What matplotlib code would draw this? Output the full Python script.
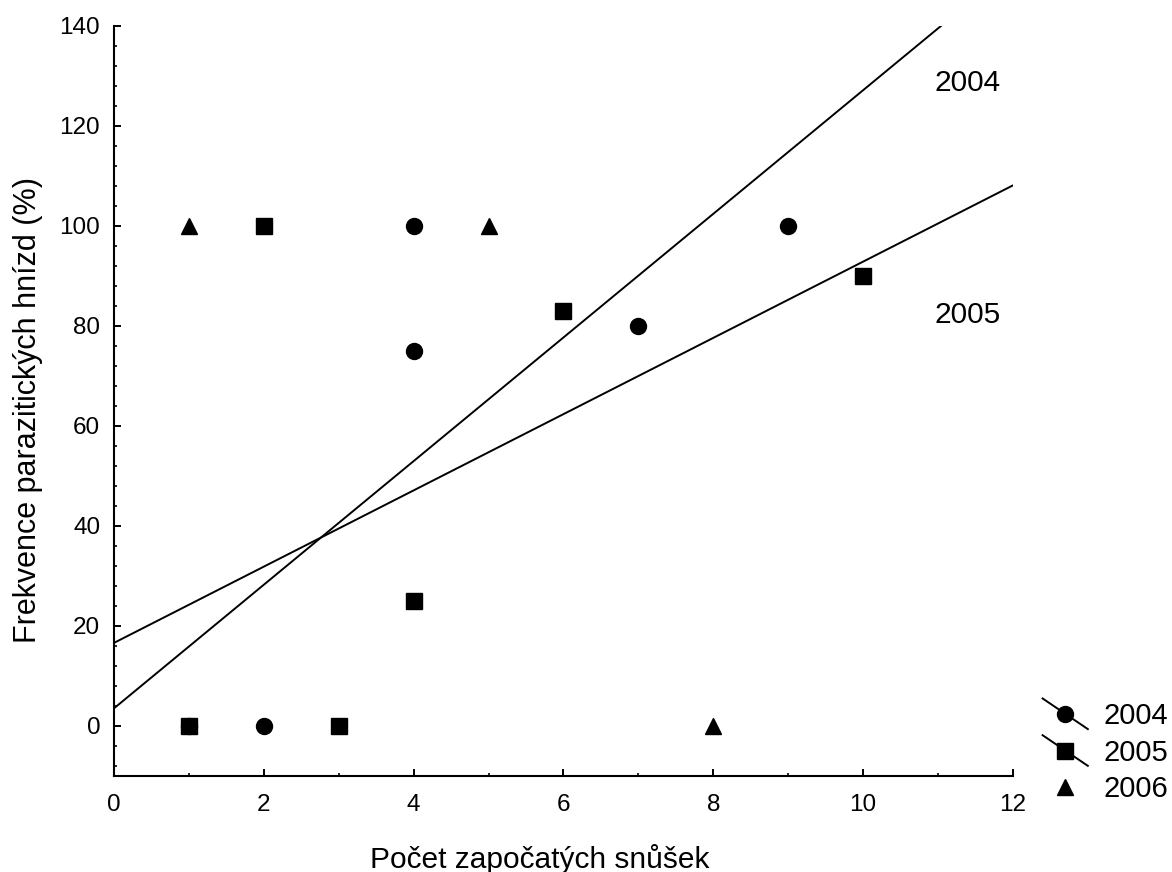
import numpy as np
import matplotlib
matplotlib.use("Agg")
import matplotlib.pyplot as plt
from matplotlib.lines import Line2D
from matplotlib.legend_handler import HandlerLine2D
from matplotlib.ticker import MultipleLocator

plt.rcParams['font.family'] = ['Liberation Sans', 'DejaVu Sans']

# pocet zapocatych snusek vs. frekvence parazitickych hnizd
x_2004 = [1, 2, 4, 4, 7, 9]
y_2004 = [0, 0, 100, 75, 80, 100]
x_2005 = [1, 2, 3, 4, 6, 10]
y_2005 = [0, 100, 0, 25, 83, 90]
x_2006 = [1, 5, 8]
y_2006 = [100, 100, 0]

years = ['2004', '2005', '2006']
x_ticks = [0, 2, 4, 6, 8, 10, 12]
y_ticks = [0, 20, 40, 60, 80, 100, 120, 140]


class DiagHandler(HandlerLine2D):
    # marker crossed by a short falling line, like the regression legend
    def create_artists(self, legend, orig_handle, xdescent, ydescent,
                       width, height, fontsize, trans):
        artists = []
        if orig_handle.get_linestyle() not in ('None', 'none', ''):
            ln = Line2D([-xdescent, width - xdescent],
                        [height * 1.25, -height * 0.25],
                        color='black', lw=1.4)
            ln.set_transform(trans)
            artists.append(ln)
        mk = Line2D([width / 2 - xdescent], [height / 2],
                    marker=orig_handle.get_marker(), ms=orig_handle.get_markersize(),
                    color='black', linestyle='None')
        mk.set_transform(trans)
        artists.append(mk)
        return artists


fig = plt.figure(figsize=(11.72, 8.72), dpi=100)
ax = fig.add_axes([0.0973, 0.1101, 0.767, 0.8601])

xs = np.array([0, 12])
for xv, yv in ((x_2004, y_2004), (x_2005, y_2005)):
    k, q = np.polyfit(xv, yv, 1)
    ax.plot(xs, q + k * xs, color='black', lw=1.4)

ax.plot(x_2004, y_2004, 'o', color='black', ms=11.5, ls='None')
ax.plot(x_2005, y_2005, 's', color='black', ms=11.5, ls='None')
ax.plot(x_2006, y_2006, '^', color='black', ms=11, ls='None')

ax.text(11.4, 128.6, '2004', fontsize=21.5, ha='center', va='center')
ax.text(11.4, 82.2, '2005', fontsize=21.5, ha='center', va='center')

ax.set_xlim(0, 12)
ax.set_ylim(-10, 140)
ax.set_xticks(x_ticks)
ax.set_yticks(y_ticks)
ax.xaxis.set_minor_locator(MultipleLocator(1))
ax.yaxis.set_minor_locator(MultipleLocator(4))
ax.tick_params(which='major', direction='in', length=5, width=1.4, labelsize=17.5)
ax.tick_params(which='minor', direction='in', length=2, width=1.2)
ax.tick_params(axis='x', pad=13)
ax.tick_params(axis='y', pad=10)
for s in ('top', 'right'):
    ax.spines[s].set_visible(False)
for s in ('left', 'bottom'):
    ax.spines[s].set_linewidth(1.5)

ax.set_xlabel('Počet započatých snůšek', fontsize=21.5)
ax.xaxis.set_label_coords(0.473, -0.091)
ax.set_ylabel('Frekvence parazitických hnízd (%)', fontsize=22)
ax.yaxis.set_label_coords(-0.079, 0.488)

handles = [
    Line2D([], [], marker='o', ms=11.5, color='black', lw=1.4),
    Line2D([], [], marker='s', ms=11.5, color='black', lw=1.4),
    Line2D([], [], marker='^', ms=11, color='black', ls='None'),
]
ax.legend(handles, years, loc='center left', bbox_to_anchor=(1.033, 0.031),
          frameon=False, fontsize=21, handlelength=1.55, handletextpad=0.55,
          labelspacing=0.3, borderaxespad=0, borderpad=0,
          handler_map={Line2D: DiagHandler()})

fig.savefig('out.png', dpi=100)
